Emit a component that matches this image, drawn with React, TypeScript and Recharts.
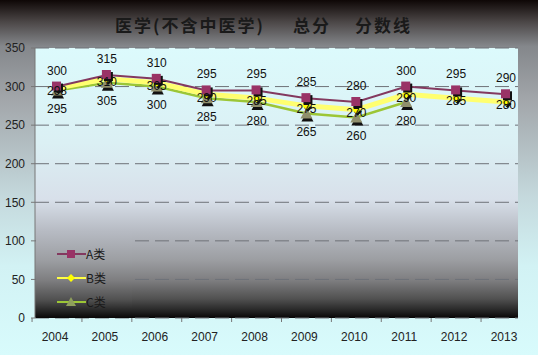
import React from 'react';
import { LineChart, Line, XAxis, YAxis, CartesianGrid, LabelList } from 'recharts';

const years = ['2004', '2005', '2006', '2007', '2008', '2009', '2010', '2011', '2012', '2013'];
const classA = [300, 315, 310, 295, 295, 285, 280, 300, 295, 290];
const classB = [298, 310, 305, 290, 285, 275, 270, 290, 285, 280];
const classC = [295, 305, 300, 285, 280, 265, 260, 280, null, null];
const yTicks = [0, 50, 100, 150, 200, 250, 300, 350];

const data = years.map((y, i) => ({ year: y, A: classA[i], B: classB[i], C: classC[i] }));

const COLORS = { A: '#83395f', B: '#ffff70', C: '#9cc636' };
const FONT = '"Liberation Sans", "DejaVu Sans", sans-serif';
const CJK = '"Noto Sans CJK SC", sans-serif';

const W = 538;
const H = 355;
const PLOT_LEFT = 35;
const PLOT_RIGHT = 518;
const PLOT_TOP = 48;
const PAD_L = 22;
const PAD_R = 12;
const STEP = (PLOT_RIGHT - PLOT_LEFT - PAD_L - PAD_R) / (years.length - 1);

const SquareDot = (p: any) => {
  if (p.cx == null || p.cy == null) return <g key={p.key} />;
  return (
    <g key={p.key}>
      <rect x={p.cx - 3} y={p.cy - 3} width={9} height={9} fill="#111" />
      <rect x={p.cx - 5} y={p.cy - 5} width={9} height={9} fill="#993366" />
    </g>
  );
};

const DiamondDot = (p: any) => {
  if (p.cx == null || p.cy == null) return <g key={p.key} />;
  const d = (x: number, y: number) => `M${x},${y - 4} L${x + 4},${y} L${x},${y + 4} L${x - 4},${y} Z`;
  return (
    <g key={p.key}>
      <path d={d(p.cx + 1.5, p.cy + 2)} fill="#111" />
      <path d={d(p.cx, p.cy)} fill="#ffff00" />
    </g>
  );
};

const TriangleDot = (p: any) => {
  if (p.cx == null || p.cy == null) return <g key={p.key} />;
  const t = (x: number, y: number) => `M${x},${y - 6} L${x + 6},${y + 5} L${x - 6},${y + 5} Z`;
  return (
    <g key={p.key}>
      <path d={t(p.cx + 1, p.cy + 3)} fill="#111" />
      <path d={t(p.cx, p.cy)} fill="#8f8f6c" />
    </g>
  );
};

const XTick = (p: any) => {
  const x0 = p.x - STEP / 2;
  const axisY = p.y - 8;
  return (
    <g>
      <line x1={x0} x2={x0} y1={axisY} y2={axisY + 4} stroke="#777" />
      <text x={p.x - 2} y={axisY + 23} textAnchor="middle" fontSize={12} fill="#222" fontFamily={FONT}>
        {p.payload.value}
      </text>
    </g>
  );
};

const LegendBox = () => {
  const rows = [
    { name: 'A类', color: COLORS.A, kind: 'A' },
    { name: 'B类', color: '#ffff44', kind: 'B' },
    { name: 'C类', color: COLORS.C, kind: 'C' },
  ];
  return (
    <div
      style={{
        position: 'absolute',
        left: PLOT_LEFT + 1,
        top: 232,
        width: 96,
        height: 86,
        background:
          'linear-gradient(to bottom, #b6bac2 0%, #9c9ea2 33%, #7e7e80 56%, #505050 79%, #202020 93%, #080606 100%)',
      }}
    >
      {rows.map((r, i) => (
        <div key={r.name} style={{ position: 'absolute', left: 21, top: 16 + i * 24, display: 'flex', alignItems: 'center' }}>
          <svg width={29} height={12}>
            <line x1={0} x2={29} y1={6} y2={6} stroke={r.color} strokeWidth={2} />
            {r.kind === 'A' && <rect x={10} y={2} width={8} height={8} fill="#993366" />}
            {r.kind === 'B' && <path d="M14,2 L18,6 L14,10 L10,6 Z" fill="#ffff00" />}
            {r.kind === 'C' && <path d="M14,1 L19,10 L9,10 Z" fill="#8f9f5c" />}
          </svg>
          <span style={{ fontSize: 12, fontFamily: CJK, color: '#1a1a1a', lineHeight: '12px' }}>{r.name}</span>
        </div>
      ))}
    </div>
  );
};

const titleStyle: React.CSSProperties = {
  position: 'absolute',
  top: 13,
  fontFamily: CJK,
  fontWeight: 'bold',
  fontSize: 17,
  letterSpacing: 2,
  color: '#1a1a1a',
  whiteSpace: 'pre',
  lineHeight: '24px',
};

export default function App() {
  return (
    <div
      style={{
        position: 'absolute',
        left: 0,
        top: 0,
        width: W,
        height: H,
        background:
          'linear-gradient(to bottom, #0e0706 0%, #4a4545 6%, #84878b 13%, #a2a6aa 28%, #c4d8dc 55%, #d2f2f4 75%, #d8fbfc 100%)',
        overflow: 'hidden',
      }}
    >
      <div style={{ ...titleStyle, left: 115 }}>医学(不含中医学)</div>
      <div style={{ ...titleStyle, left: 293 }}>总分</div>
      <div style={{ ...titleStyle, left: 355 }}>分数线</div>
      <LineChart
        width={W}
        height={H}
        data={data}
        margin={{ top: PLOT_TOP, right: W - PLOT_RIGHT, bottom: 0, left: 0 }}
        style={{ position: 'absolute', left: 0, top: 0 }}
      >
        <defs>
          <linearGradient id="plotBg" x1="0" y1="0" x2="0" y2="1">
            <stop offset="0%" stopColor="#dcfafc" />
            <stop offset="35%" stopColor="#dbf0f4" />
            <stop offset="56%" stopColor="#d8e0ea" />
            <stop offset="68%" stopColor="#b6bac2" />
            <stop offset="78.5%" stopColor="#9c9ea2" />
            <stop offset="86%" stopColor="#7e7e80" />
            <stop offset="93%" stopColor="#505050" />
            <stop offset="97.8%" stopColor="#202020" />
            <stop offset="100%" stopColor="#080606" />
          </linearGradient>
        </defs>
        <CartesianGrid vertical={false} stroke="#6e7278" strokeDasharray="14 6" fill="url(#plotBg)" />
        <XAxis
          dataKey="year"
          height={37}
          axisLine={false}
          tickLine={false}
          interval={0}
          padding={{ left: PAD_L, right: PAD_R }}
          tick={<XTick />}
        />
        <YAxis
          width={PLOT_LEFT}
          domain={[0, 350]}
          ticks={yTicks}
          interval={0}
          axisLine={{ stroke: '#777' }}
          tickLine={{ stroke: '#777' }}
          tickSize={4}
          tickMargin={6}
          tick={{ fontSize: 12, fill: '#222', fontFamily: FONT }}
        />
        <Line
          dataKey="C"
          name="C类"
          stroke={COLORS.C}
          strokeWidth={2.5}
          dot={TriangleDot}
          activeDot={false}
          isAnimationActive={false}
        >
          <LabelList dataKey="C" position="bottom" offset={14} fontSize={12} fill="#111" fontFamily={FONT} />
        </Line>
        <Line
          dataKey="B"
          name="B类"
          stroke={COLORS.B}
          strokeWidth={5}
          dot={DiamondDot}
          activeDot={false}
          isAnimationActive={false}
        >
          <LabelList dataKey="B" position="center" offset={0} dy={3} fontSize={12} fill="#111" fontFamily={FONT} />
        </Line>
        <Line
          dataKey="A"
          name="A类"
          stroke={COLORS.A}
          strokeWidth={2}
          dot={SquareDot}
          activeDot={false}
          isAnimationActive={false}
        >
          <LabelList dataKey="A" position="top" offset={12} fontSize={12} fill="#111" fontFamily={FONT} />
        </Line>
      </LineChart>
      <LegendBox />
    </div>
  );
}
